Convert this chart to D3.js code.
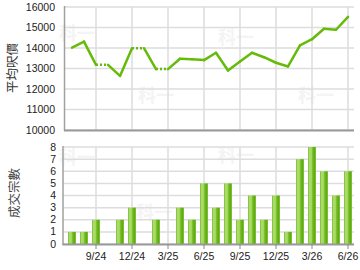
<!DOCTYPE html>
<html>
<head>
<meta charset="utf-8">
<script src="https://cdn.jsdelivr.net/npm/d3@7"></script>
<style>
  body { margin: 0; background: #fff; }
  svg text { font-family: "Liberation Sans", Arial, sans-serif; }
</style>
</head>
<body>
<div class="chart"></div>
<script>
// months shown on the x axis (one band per month)
const months = ["7/24","8/24","9/24","10/24","11/24","12/24","1/25","2/25","3/25","4/25","5/25","6/25",
                "7/25","8/25","9/25","10/25","11/25","12/25","1/26","2/26","3/26","4/26","5/26","6/26"];
// average price per sq ft, null = no deal that month
const prices = [14020,14310,13180,null,12640,13990,null,12970,null,13475,13456,13410,
                13770,12900,13340,13770,13550,13280,13100,14130,14430,14940,14890,15520];
// number of deals
const deals = [1,1,2,0,2,3,0,2,0,3,2,5,3,5,2,4,2,4,1,7,8,6,4,6];
const tickMonths = ["9/24","12/24","3/25","6/25","9/25","12/25","3/26","6/26"];
const priceTicks = [10000,11000,12000,13000,14000,15000,16000];
const dealTicks = [0,1,2,3,4,5,6,7,8];

const W = 360, H = 270;
const green = "#66bb0a";

let svg = d3.select(".chart").append("svg")
  .attr("width", W).attr("height", H);

let defs = svg.append("defs");
let grad = defs.append("linearGradient").attr("id", "barGrad")
  .attr("x1", "0%").attr("x2", "100%").attr("y1", "0%").attr("y2", "0%");
[[0,"#76bc2c"],[0.2,"#addd70"],[0.45,"#a2d65c"],[0.6,"#70b924"],[0.85,"#5eac10"],[1,"#8aca44"]]
  .forEach(function(s){ grad.append("stop").attr("offset", s[0]).attr("stop-color", s[1]); });

let x = d3.scaleBand().domain(months).range([66, 354]);
let xc = function(m){ return x(m) + x.bandwidth()/2; };

// watermarks
let marks = [[77,40],[156,102],[236,44],[316,102],[77,164],[154,219],[236,162],[316,218]];
svg.append("g").selectAll("text").data(marks).enter().append("text")
  .attr("x", function(d){ return d[0]; }).attr("y", function(d){ return d[1]; })
  .attr("text-anchor", "middle")
  .style("font-family", "'Noto Sans CJK TC', sans-serif")
  .style("font-size", "18px").style("font-weight", "bold")
  .style("fill", "#f4f4f4")
  .text("科一");

// ---------- top chart: price ----------
let yTop = d3.scaleLinear().domain([10000,16000]).range([130, 7]);
let topG = svg.append("g");

topG.selectAll(".hgrid").data(priceTicks).enter().append("line")
  .attr("x1", 64.5).attr("x2", 354)
  .attr("y1", function(d){ return yTop(d); }).attr("y2", function(d){ return yTop(d); })
  .attr("stroke", "#dddddd").attr("stroke-width", 1.5);

topG.selectAll(".vgrid").data(tickMonths).enter().append("line")
  .attr("x1", function(d){ return xc(d); }).attr("x2", function(d){ return xc(d); })
  .attr("y1", 7).attr("y2", 130)
  .attr("stroke", "#dddddd").attr("stroke-width", 1.5);

topG.append("line").attr("x1", 64.5).attr("x2", 64.5).attr("y1", 6).attr("y2", 131)
  .attr("stroke", "#a0a0a0").attr("stroke-width", 1.5);
topG.append("line").attr("x1", 64).attr("x2", 354).attr("y1", 130.5).attr("y2", 130.5)
  .attr("stroke", "#999999").attr("stroke-width", 2);

topG.selectAll(".ylab").data(priceTicks).enter().append("text")
  .attr("x", 55).attr("y", function(d){ return yTop(d) + 3.5; })
  .attr("text-anchor", "end")
  .style("font-size", "10.5px").style("fill", "#222")
  .text(function(d){ return d; });

topG.append("text")
  .attr("transform", "translate(17,68) rotate(-90)")
  .attr("text-anchor", "middle")
  .style("font-family", "'Noto Sans CJK TC', sans-serif")
  .style("font-size", "12.5px").style("fill", "#333")
  .text("平均呎價");

// carry the previous value through months with no deal (drawn dotted)
let carried = [];
prices.forEach(function(p, i){ carried.push(p === null ? carried[i-1] : p); });

let segs = [];
for (let i = 1; i < months.length; i++) {
  segs.push({ a: i-1, b: i, dotted: prices[i] === null });
}
let line = d3.line().x(function(i){ return xc(months[i]); }).y(function(i){ return yTop(carried[i]); });

topG.selectAll(".seg").data(segs).enter().append("path")
  .attr("d", function(s){ return line([s.a, s.b]); })
  .attr("fill", "none")
  .attr("stroke", green)
  .attr("stroke-width", 2.5)
  .attr("stroke-linecap", function(s){ return s.dotted ? "butt" : "round"; })
  .attr("stroke-dasharray", function(s){ return s.dotted ? "2,2" : null; });

// ---------- bottom chart: deals ----------
let yBot = d3.scaleLinear().domain([0,8]).range([244, 147]);
let botG = svg.append("g");

botG.selectAll(".hgrid").data(dealTicks).enter().append("line")
  .attr("x1", 63).attr("x2", 354)
  .attr("y1", function(d){ return yBot(d); }).attr("y2", function(d){ return yBot(d); })
  .attr("stroke", "#dddddd").attr("stroke-width", 1.5);

botG.selectAll(".vgrid").data(tickMonths).enter().append("line")
  .attr("x1", function(d){ return xc(d); }).attr("x2", function(d){ return xc(d); })
  .attr("y1", 147).attr("y2", 244)
  .attr("stroke", "#dddddd").attr("stroke-width", 1.5);

let barW = 8;
botG.selectAll(".bar").data(deals).enter().append("rect")
  .attr("x", function(d, i){ return xc(months[i]) - barW/2; })
  .attr("y", function(d){ return yBot(d); })
  .attr("width", barW)
  .attr("height", function(d){ return yBot(0) - yBot(d); })
  .attr("fill", "url(#barGrad)");

botG.append("line").attr("x1", 63).attr("x2", 63).attr("y1", 146).attr("y2", 245)
  .attr("stroke", "#a0a0a0").attr("stroke-width", 1.5);
botG.append("line").attr("x1", 62.5).attr("x2", 354).attr("y1", 244.5).attr("y2", 244.5)
  .attr("stroke", "#999999").attr("stroke-width", 2);

botG.selectAll(".tick").data(tickMonths).enter().append("line")
  .attr("x1", function(d){ return xc(d); }).attr("x2", function(d){ return xc(d); })
  .attr("y1", 244).attr("y2", 249)
  .attr("stroke", "#888").attr("stroke-width", 1);

botG.selectAll(".xlab").data(tickMonths).enter().append("text")
  .attr("x", function(d){ return xc(d); }).attr("y", 260)
  .attr("text-anchor", "middle")
  .style("font-size", "10.5px").style("fill", "#222")
  .text(function(d){ return d; });

botG.selectAll(".ylab").data(dealTicks).enter().append("text")
  .attr("x", 56).attr("y", function(d){ return yBot(d) + 3.5; })
  .attr("text-anchor", "end")
  .style("font-size", "10.5px").style("fill", "#222")
  .text(function(d){ return d; });

botG.append("text")
  .attr("transform", "translate(19,193) rotate(-90)")
  .attr("text-anchor", "middle")
  .style("font-family", "'Noto Sans CJK TC', sans-serif")
  .style("font-size", "12.5px").style("fill", "#444")
  .text("成交宗數");
</script>
</body>
</html>
